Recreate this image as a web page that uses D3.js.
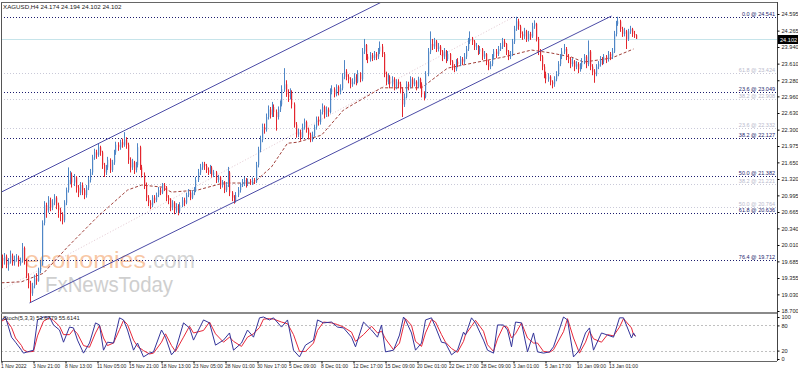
<!DOCTYPE html>
<html>
<head>
<meta charset="utf-8">
<script src="https://cdn.jsdelivr.net/npm/d3@7"></script>
<style>
  body { margin: 0; background: #fff; }
  svg { display: block; font-family: "Liberation Sans", Arial, sans-serif; }
</style>
</head>
<body>
<svg id="chart" width="798" height="372"></svg>
<script>
// XAGUSD H4 candles, bar index 0 = 1 Nov 2022. Open of each bar is the previous close.
const firstOpen = 19.75;
const closes = [
  19.70,19.78,19.62,19.68,19.80,19.66,19.72,19.76,19.64,19.70,
  19.95,19.70,19.40,19.25,19.05,19.20,19.35,19.30,19.50,19.62,
  20.45,20.80,20.70,20.90,20.75,20.85,20.95,20.80,20.70,20.62,
  20.50,20.85,21.10,21.30,21.40,21.25,21.35,21.15,21.05,21.20,
  21.10,21.00,21.15,21.30,21.45,21.75,21.85,21.80,21.95,21.85,
  21.60,21.45,21.55,21.70,21.50,21.65,21.85,22.00,21.95,22.05,
  22.00,22.10,22.00,21.70,21.55,21.65,21.50,21.60,21.95,21.55,
  21.40,21.20,20.95,20.85,20.80,20.95,20.90,21.00,21.10,21.05,
  21.20,21.15,20.95,20.90,20.75,20.85,20.70,20.78,20.68,20.80,
  20.90,20.85,21.00,21.05,20.95,21.05,21.10,21.30,21.45,21.55,
  21.62,21.58,21.50,21.45,21.55,21.40,21.45,21.30,21.35,21.20,
  21.25,21.10,21.20,21.45,21.05,20.95,20.88,21.00,21.10,21.20,
  21.25,21.30,21.22,21.28,21.25,21.30,21.27,21.60,21.90,22.10,
  22.35,22.30,22.55,22.70,22.60,22.75,22.65,22.55,22.70,22.80,
  23.10,23.20,23.00,22.95,23.05,22.80,22.40,22.20,22.25,22.15,
  22.35,22.45,22.30,22.20,22.10,22.20,22.35,22.50,22.45,22.65,
  22.75,22.60,22.70,22.65,23.05,23.10,23.00,23.15,23.05,23.12,
  23.35,23.45,23.35,23.30,23.20,23.25,23.35,23.25,23.40,23.30,
  23.85,23.98,23.75,23.70,23.78,23.72,23.80,23.75,23.85,23.95,
  23.80,23.40,23.25,23.35,23.20,23.30,23.15,23.25,23.20,23.10,
  22.80,22.95,23.20,23.15,23.30,23.20,23.25,23.15,23.30,23.20,
  23.00,22.95,23.40,23.85,24.00,23.95,24.05,23.90,23.95,23.85,
  23.75,23.85,23.70,23.80,23.65,23.55,23.50,23.65,23.60,23.70,
  23.65,23.75,23.90,24.05,24.10,24.05,23.95,23.95,23.85,23.90,
  23.75,23.80,23.65,23.55,23.60,23.75,23.85,23.80,23.90,23.95,
  24.05,24.00,23.85,23.75,23.80,24.05,24.30,24.45,24.35,24.20,
  24.15,24.25,24.10,24.20,24.15,24.35,24.40,24.10,23.85,23.75,
  23.55,23.40,23.30,23.35,23.25,23.20,23.30,23.40,23.60,23.75,
  23.85,23.90,23.75,23.70,23.60,23.65,23.55,23.60,23.50,23.55,
  23.65,23.75,23.60,23.85,23.55,23.45,23.40,23.55,23.60,23.70,
  23.65,23.75,23.70,23.80,23.75,23.85,24.20,24.40,24.45,24.30,
  24.20,24.25,24.10,24.25,24.30,24.20,24.174,24.102
];
const highs = [
  19.82,19.85,19.82,19.75,19.90,19.84,19.80,19.83,19.80,19.76,
  20.05,19.98,19.74,19.45,19.30,19.26,19.42,19.45,19.56,19.70,
  20.50,20.88,20.85,20.98,20.95,20.92,21.02,20.98,20.85,20.75,
  20.66,20.90,21.15,21.55,21.48,21.45,21.42,21.38,21.20,21.26,
  21.25,21.14,21.20,21.36,21.52,21.80,21.92,21.90,22.03,21.98,
  21.88,21.64,21.60,21.76,21.73,21.70,21.90,22.06,22.05,22.10,
  22.12,22.25,22.15,22.04,21.75,21.72,21.68,21.66,22.03,21.98,
  21.60,21.45,21.25,21.00,20.90,21.00,21.00,21.05,21.16,21.15,
  21.24,21.24,21.18,21.00,20.94,20.90,20.88,20.84,20.82,20.86,
  20.96,20.95,21.05,21.12,21.08,21.10,21.16,21.36,21.52,21.62,
  21.66,21.66,21.62,21.55,21.60,21.58,21.50,21.48,21.40,21.38,
  21.30,21.28,21.26,21.56,21.48,21.08,21.00,21.06,21.16,21.25,
  21.32,21.36,21.34,21.33,21.32,21.35,21.34,21.66,21.96,22.18,
  22.42,22.42,22.62,22.78,22.75,22.85,22.80,22.70,22.76,22.88,
  23.18,23.52,23.28,23.10,23.12,23.08,22.84,22.45,22.32,22.30,
  22.42,22.52,22.48,22.34,22.24,22.26,22.40,22.56,22.56,22.70,
  22.82,22.78,22.76,22.74,23.12,23.18,23.14,23.20,23.18,23.20,
  23.42,23.68,23.50,23.40,23.34,23.32,23.42,23.40,23.48,23.44,
  23.92,24.10,24.00,23.80,23.84,23.82,23.86,23.84,23.92,24.05,
  24.00,23.84,23.45,23.42,23.38,23.36,23.34,23.30,23.30,23.25,
  23.14,23.02,23.26,23.25,23.36,23.34,23.32,23.28,23.35,23.33,
  23.24,23.06,23.46,23.92,24.25,24.10,24.12,24.08,24.02,23.98,
  23.88,23.92,23.88,23.86,23.82,23.68,23.60,23.70,23.72,23.76,
  23.74,23.82,23.96,24.12,24.25,24.14,24.08,24.02,23.98,23.96,
  23.92,23.86,23.82,23.68,23.66,23.80,23.90,23.90,23.96,24.02,
  24.12,24.10,24.02,23.88,23.86,24.10,24.36,24.54,24.50,24.38,
  24.25,24.32,24.28,24.26,24.24,24.42,24.47,24.42,24.14,23.90,
  23.78,23.60,23.45,23.42,23.38,23.28,23.36,23.46,23.66,23.80,
  23.92,24.00,23.94,23.80,23.74,23.72,23.68,23.66,23.64,23.62,
  23.72,23.80,23.78,24.07,23.88,23.60,23.50,23.60,23.66,23.76,
  23.74,23.80,23.78,23.86,23.84,23.92,24.26,24.46,24.54,24.48,
  24.34,24.32,24.28,24.30,24.36,24.32,24.26,24.194
];
const lows = [
  19.55,19.62,19.55,19.50,19.64,19.60,19.60,19.68,19.58,19.60,
  19.66,19.62,19.35,19.15,18.86,19.00,19.15,19.22,19.28,19.45,
  19.60,20.40,20.55,20.65,20.68,20.70,20.80,20.72,20.55,20.48,
  20.42,20.46,20.80,21.05,21.22,21.15,21.18,21.05,20.96,21.00,
  21.00,20.92,20.95,21.10,21.25,21.40,21.70,21.72,21.76,21.78,
  21.52,21.36,21.40,21.50,21.44,21.46,21.60,21.80,21.88,21.90,
  21.94,21.96,21.92,21.62,21.45,21.50,21.42,21.45,21.55,21.50,
  21.35,21.12,20.88,20.78,20.72,20.76,20.84,20.86,20.96,21.00,
  21.02,21.08,20.88,20.82,20.68,20.70,20.62,20.65,20.60,20.64,
  20.76,20.78,20.82,20.96,20.90,20.92,21.00,21.06,21.26,21.40,
  21.50,21.50,21.44,21.40,21.42,21.35,21.36,21.24,21.25,21.12,
  21.15,21.04,21.06,21.16,20.98,20.88,20.83,20.85,20.96,21.05,
  21.16,21.18,21.15,21.18,21.20,21.20,21.22,21.24,21.55,21.85,
  22.05,22.22,22.26,22.50,22.52,22.55,22.55,22.28,22.50,22.65,
  22.76,23.05,22.95,22.85,22.90,22.72,22.34,22.14,22.15,22.08,
  22.12,22.30,22.24,22.12,22.05,22.06,22.16,22.30,22.38,22.40,
  22.60,22.52,22.55,22.56,22.62,23.00,22.94,22.96,22.98,23.00,
  23.08,23.30,23.28,23.22,23.12,23.15,23.20,23.18,23.22,23.24,
  23.26,23.80,23.68,23.62,23.65,23.66,23.68,23.68,23.70,23.80,
  23.74,23.34,23.18,23.20,23.12,23.15,23.08,23.10,23.12,23.02,
  22.55,22.75,22.92,23.08,23.12,23.14,23.16,23.08,23.12,23.12,
  22.94,22.88,22.92,23.36,23.80,23.88,23.90,23.84,23.85,23.78,
  23.66,23.70,23.62,23.66,23.58,23.48,23.44,23.46,23.54,23.56,
  23.58,23.60,23.70,23.86,24.00,23.98,23.88,23.88,23.78,23.80,
  23.68,23.70,23.58,23.48,23.50,23.56,23.70,23.72,23.76,23.86,
  23.90,23.94,23.78,23.68,23.70,23.76,24.00,24.26,24.28,24.12,
  24.08,24.10,24.04,24.05,24.08,24.12,24.30,24.05,23.78,23.66,
  23.48,23.32,23.22,23.25,23.18,23.12,23.15,23.26,23.36,23.56,
  23.70,23.80,23.68,23.62,23.52,23.55,23.46,23.50,23.42,23.45,
  23.50,23.60,23.52,23.56,23.48,23.38,23.23,23.36,23.50,23.55,
  23.58,23.60,23.62,23.65,23.68,23.70,23.82,24.15,24.36,24.24,
  24.14,24.15,23.90,24.06,24.20,24.14,24.12,24.102
];

// moving average (dashed), read at a few bars
const maBars = [0,10,21,33,48,63,70,80,85,98,111,126,135,143,148,160,171,190,210,223,238,251,265,275,285,291,305,316];
const maValues = [19.26,19.28,19.45,19.97,20.57,21.10,21.20,21.16,21.06,21.10,21.24,21.24,21.56,22.03,22.05,22.19,22.69,23.13,23.13,23.52,23.64,23.74,23.88,23.82,23.74,23.64,23.72,23.90];

// channel and trend lines [bar, price]
const channelUpper = [[0, 21.062], [200, 25.03]];
const channelLower = [[14, 18.86], [305, 24.555]];
const faintTrend = [[0, 19.117], [256, 24.536]];

// fibonacci levels
const fibLevels = ["0.0", "23.6", "38.2", "50.0", "61.8", "76.4"];
const fibPrices = [24.541, 23.049, 22.127, 21.382, 20.636, 19.712];
const fib2Levels = ["61.8", "38.2", "23.6", "38.2", "50.0"];
const fib2Prices = [23.424, 22.908, 22.332, 21.221, 20.764];

// stochastic (5,3,3)
const stochBars = [0,2,5,7,10,11,13,16,18,21,24,26,29,31,34,36,38,41,44,47,49,51,53,56,59,61,63,66,68,71,74,76,80,82,85,87,91,94,96,101,104,107,111,114,116,120,123,126,129,131,134,136,140,143,146,149,152,156,158,161,165,168,171,175,177,181,185,188,190,192,196,199,201,202,205,207,210,212,215,217,220,222,225,228,231,232,235,237,241,243,246,248,251,253,255,257,260,263,266,268,271,274,276,281,283,286,289,292,294,296,300,303,306,309,311,315,316,317];
const stochK = [93,100,52,40,21,14,17,21,93,100,100,81,69,40,76,74,45,14,38,86,81,21,40,38,98,93,69,21,38,5,14,17,69,52,10,21,86,74,45,93,86,33,45,62,21,38,69,52,98,100,93,98,76,93,21,5,33,45,93,86,88,76,74,52,29,88,69,52,81,17,21,57,100,93,62,21,38,93,98,76,40,38,10,21,64,57,98,86,45,21,14,81,81,69,29,88,86,17,62,17,14,17,29,100,93,5,21,62,74,21,62,57,52,98,98,50,62,53.7];
const stochD = [90,95,75,50,32,22,17,18,55,90,98,92,78,58,58,70,60,32,28,62,80,50,32,38,70,92,82,45,30,20,12,14,40,60,32,18,52,78,62,68,88,60,40,52,42,30,52,60,75,95,96,95,88,84,58,18,18,38,68,88,86,82,76,64,42,58,78,62,66,48,22,38,78,96,80,42,30,62,94,88,58,40,25,16,42,58,78,92,66,34,18,48,78,76,50,60,86,50,38,38,18,16,22,65,96,50,14,40,66,48,40,58,55,76,96,74,58,55.6];

// axis labels
const priceTicks = ["24.595","24.265","23.940","23.610","23.280","22.960","22.630","22.300","21.975","21.650","21.320","20.995","20.665","20.340","20.010","19.685","19.355","19.030","18.700"];
const timeLabels = ["1 Nov 2022","3 Nov 21:00","8 Nov 13:00","11 Nov 05:00","15 Nov 21:00","18 Nov 13:00","23 Nov 05:00","28 Nov 01:00","30 Nov 17:00","5 Dec 09:00","8 Dec 01:00","12 Dec 17:00","15 Dec 09:00","20 Dec 01:00","22 Dec 17:00","28 Dec 09:00","3 Jan 01:00","5 Jan 17:00","10 Jan 09:00","13 Jan 01:00"];
const timeTickBars = timeLabels.map((d, i) => i * 16);
const stochTicks = [100, 80, 20, 0];

const svg = d3.select("#chart");
const main = { left: 1, right: 777, top: 2, bottom: 312 };
const sub = { top: 314, bottom: 361 };

const x = d3.scaleLinear().domain([0, 317]).range([1.5, 635.5]);
const y = d3.scaleLinear().domain([18.700, 24.595]).range([311, 14]);
const ys = d3.scaleLinear().domain([0, 100]).range([359, 317]);

svg.append("rect").attr("width", 798).attr("height", 372).attr("fill", "#fff");

svg.append("defs").append("clipPath").attr("id", "mainClip")
  .append("rect").attr("x", main.left).attr("y", main.top)
  .attr("width", main.right - main.left).attr("height", main.bottom - main.top);
svg.select("defs").append("clipPath").attr("id", "subClip")
  .append("rect").attr("x", main.left).attr("y", sub.top)
  .attr("width", main.right - main.left).attr("height", sub.bottom - sub.top);

const g = svg.append("g").attr("clip-path", "url(#mainClip)");

// watermark
const wm = g.append("g").attr("opacity", 0.6);
wm.append("text").attr("x", 25).attr("y", 268).attr("font-size", 24)
  .attr("fill", "#f4a36a").attr("textLength", 121).attr("lengthAdjust", "spacingAndGlyphs")
  .text("economies");
wm.append("text").attr("x", 147).attr("y", 268).attr("font-size", 24)
  .attr("fill", "#b8b8b8").attr("textLength", 48).attr("lengthAdjust", "spacingAndGlyphs")
  .text(".com");
wm.append("text").attr("x", 45).attr("y", 292).attr("font-size", 22)
  .attr("fill", "#b0b0b0").attr("textLength", 128).attr("lengthAdjust", "spacingAndGlyphs")
  .text("FxNewsToday");

// faint fib levels
g.selectAll(".fib2").data(fib2Prices).join("line")
  .attr("x1", main.left).attr("x2", main.right)
  .attr("y1", d => Math.round(y(d)) + 0.5).attr("y2", d => Math.round(y(d)) + 0.5)
  .attr("stroke", "#c9c9d8").attr("stroke-dasharray", "1,2");
g.selectAll(".fib2label").data(fib2Prices).join("text")
  .attr("x", 775).attr("y", d => Math.round(y(d)) - 1)
  .attr("text-anchor", "end").attr("font-size", 5.5).attr("fill", "#b9b9cc")
  .text((d, i) => `${fib2Levels[i]} @ ${d.toFixed(3)}`);

// main fib levels
g.selectAll(".fib").data(fibPrices).join("line")
  .attr("x1", main.left).attr("x2", main.right)
  .attr("y1", d => Math.round(y(d)) + 0.5).attr("y2", d => Math.round(y(d)) + 0.5)
  .attr("stroke", "#1c1c6e").attr("stroke-dasharray", "1,2");
g.selectAll(".fiblabel").data(fibPrices).join("text")
  .attr("x", 775).attr("y", d => Math.round(y(d)) - 1)
  .attr("text-anchor", "end").attr("font-size", 5.5).attr("fill", "#1c1c6e")
  .text((d, i) => `${fibLevels[i]} @ ${d.toFixed(3)}`);

// bid line
const bid = closes[closes.length - 1];
g.append("line").attr("x1", main.left).attr("x2", main.right)
  .attr("y1", Math.round(y(bid)) + 0.5).attr("y2", Math.round(y(bid)) + 0.5)
  .attr("stroke", "#c6e4ea");

const line = d3.line().x(d => x(d[0])).y(d => y(d[1]));

g.append("path").attr("d", line(faintTrend)).attr("fill", "none")
  .attr("stroke", "#e3c9d2").attr("stroke-dasharray", "1,2");

g.append("path").attr("d", line(maBars.map((b, i) => [b, maValues[i]])))
  .attr("fill", "none").attr("stroke", "#a0403a").attr("stroke-dasharray", "3,2");

// candles
const candles = g.append("g");
closes.forEach((c, i) => {
  const o = i === 0 ? firstOpen : closes[i - 1];
  const up = c >= o;
  const col = up ? "#4f86c6" : "#e3262e";
  const cx = Math.round(x(i)) + 0.5;
  candles.append("line").attr("x1", cx).attr("x2", cx)
    .attr("y1", y(highs[i])).attr("y2", y(lows[i])).attr("stroke", col);
  const top = y(Math.max(o, c)), bot = y(Math.min(o, c));
  candles.append("rect").attr("x", cx - 0.5).attr("width", 1.2)
    .attr("y", top).attr("height", Math.max(1, bot - top)).attr("fill", col);
});

// channel
[channelUpper, channelLower].forEach(pts => {
  g.append("path").attr("d", line(pts)).attr("fill", "none")
    .attr("stroke", "#4b4ba6").attr("stroke-width", 1);
});

// title
svg.append("text").attr("x", 3).attr("y", 9).attr("font-size", 6.2).attr("fill", "#222")
  .text("XAGUSD,H4  24.174 24.194 24.102 24.102");

// stochastic panel
const sg = svg.append("g").attr("clip-path", "url(#subClip)");
[80, 20].forEach(v => {
  sg.append("line").attr("x1", main.left).attr("x2", main.right)
    .attr("y1", Math.round(ys(v)) + 0.5).attr("y2", Math.round(ys(v)) + 0.5)
    .attr("stroke", "#c0c0c0").attr("stroke-dasharray", "2,2");
});
const sline = d3.line().x(d => x(d[0])).y(d => ys(d[1]));
sg.append("path").attr("d", sline(stochBars.map((b, i) => [b, stochD[i]])))
  .attr("fill", "none").attr("stroke", "#e8283a").attr("stroke-width", 1);
sg.append("path").attr("d", sline(stochBars.map((b, i) => [b, stochK[i]])))
  .attr("fill", "none").attr("stroke", "#34349a").attr("stroke-width", 1);
svg.append("text").attr("x", 3).attr("y", 320).attr("font-size", 5.8).attr("fill", "#222")
  .text("Stoch(5,3,3) 53.6779 55.6141");

// frames
svg.append("line").attr("x1", 1.5).attr("x2", 1.5).attr("y1", main.top).attr("y2", sub.bottom).attr("stroke", "#555");
svg.append("line").attr("x1", main.left).attr("x2", main.right).attr("y1", main.top + 0.5).attr("y2", main.top + 0.5).attr("stroke", "#666");
svg.append("rect").attr("x", main.left).attr("y", 312).attr("width", main.right - main.left).attr("height", 2).attr("fill", "#8a8a8a");
svg.append("line").attr("x1", main.left).attr("x2", main.right).attr("y1", sub.bottom + 0.5).attr("y2", sub.bottom + 0.5).attr("stroke", "#666");

// price axis
const yAxis = d3.axisRight(y).tickValues(priceTicks.map(Number)).tickSize(2).tickPadding(2)
  .tickFormat((d, i) => priceTicks[i]);
svg.append("g").attr("transform", `translate(${main.right + 0.5},0)`).call(yAxis)
  .call(a => a.select(".domain").attr("d", `M0,${main.top}V${sub.bottom}`).attr("stroke", "#444"))
  .call(a => a.selectAll("text").attr("font-size", 5.6).attr("fill", "#222").attr("font-family", "Liberation Sans, Arial"));

// bid price tag
svg.append("rect").attr("x", 778).attr("y", Math.round(y(bid)) - 4).attr("width", 20).attr("height", 9).attr("fill", "#000");
svg.append("text").attr("x", 780).attr("y", Math.round(y(bid)) + 2.5).attr("font-size", 5.6).attr("fill", "#fff").text(bid.toFixed(3));

// stochastic axis
const sAxis = d3.axisRight(ys).tickValues(stochTicks).tickSize(2).tickPadding(2);
svg.append("g").attr("transform", `translate(${main.right + 0.5},0)`).call(sAxis)
  .call(a => a.select(".domain").remove())
  .call(a => a.selectAll("text").attr("font-size", 5.6).attr("fill", "#222").attr("font-family", "Liberation Sans, Arial"));

// time axis
const xAxis = d3.axisBottom(x).tickValues(timeTickBars).tickSize(2).tickPadding(1)
  .tickFormat((d, i) => timeLabels[i]);
svg.append("g").attr("transform", `translate(0,${sub.bottom + 0.5})`).call(xAxis)
  .call(a => a.select(".domain").remove())
  .call(a => a.selectAll("text").attr("text-anchor", "start").attr("dx", -1)
    .attr("font-size", 5).attr("fill", "#222").attr("font-family", "Liberation Sans, Arial"));
</script>
</body>
</html>
